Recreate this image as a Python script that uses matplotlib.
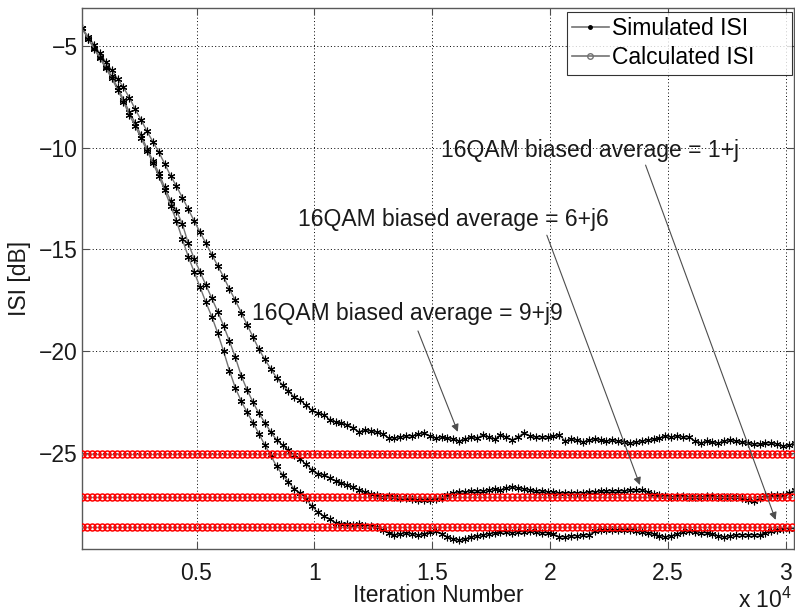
#!/usr/bin/env python3

import matplotlib
matplotlib.use('Agg')

import numpy as np
import matplotlib.pyplot as plt

# -----------------------------
# Data
# -----------------------------
iters = np.arange(150, 30401, 250)   # iteration number of each simulated point

isi_9j9 = [
    -4.15, -4.55, -4.95, -5.38, -5.8, -6.2, -6.62, -7.05, -7.55, -8.12,
    -8.65, -9.2, -9.72, -10.22, -10.8, -11.38, -11.9, -12.45, -13.02, -13.6,
    -14.15, -14.7, -15.25, -15.8, -16.35, -16.95, -17.5, -18.1, -18.7, -19.3,
    -19.9, -20.4, -20.85, -21.3, -21.65, -21.95, -22.25, -22.4, -22.65, -22.9,
    -23.05, -23.1, -23.35, -23.45, -23.5, -23.6, -23.75, -23.95, -23.85, -23.9,
    -23.95, -24.05, -24.25, -24.25, -24.2, -24.15, -24.15, -24.05, -24.0, -24.15,
    -24.25, -24.2, -24.25, -24.3, -24.4, -24.3, -24.2, -24.25, -24.1, -24.2,
    -24.3, -24.1, -24.2, -24.35, -24.2, -24.0, -24.15, -24.2, -24.2, -24.2,
    -24.15, -24.1, -24.4, -24.3, -24.35, -24.45, -24.35, -24.3, -24.35, -24.4,
    -24.35, -24.4, -24.45, -24.5, -24.45, -24.4, -24.35, -24.3, -24.25, -24.15,
    -24.2, -24.15, -24.2, -24.2, -24.4, -24.5, -24.4, -24.45, -24.5, -24.4,
    -24.35, -24.4, -24.45, -24.5, -24.55, -24.55, -24.5, -24.5, -24.55, -24.65,
    -24.6, -24.5,
]

isi_6j6 = [
    -4.15, -4.65, -5.1, -5.55, -6.05, -6.5, -7.05, -7.65, -8.25, -8.8,
    -9.4, -10.05, -10.65, -11.25, -11.95, -12.6, -13.1, -13.75, -14.7, -15.45,
    -16.1, -16.75, -17.4, -18.05, -18.75, -19.5, -20.3, -21.2, -21.9, -22.5,
    -23.05, -23.5, -23.95, -24.35, -24.6, -24.85, -25.1, -25.3, -25.55, -25.8,
    -26.0, -26.05, -26.2, -26.35, -26.45, -26.55, -26.65, -26.8, -26.9, -27.0,
    -27.05, -27.15, -27.1, -27.15, -27.2, -27.2, -27.25, -27.3, -27.3, -27.3,
    -27.25, -27.2, -27.05, -26.95, -26.9, -26.9, -26.85, -26.85, -26.85, -26.8,
    -26.75, -26.8, -26.7, -26.65, -26.7, -26.75, -26.8, -26.85, -26.85, -26.9,
    -26.9, -26.95, -26.95, -26.95, -26.95, -26.95, -26.9, -26.9, -26.85, -26.85,
    -26.85, -26.85, -26.85, -26.8, -26.8, -26.8, -26.9, -27.0, -27.05, -27.1,
    -27.15, -27.1, -27.1, -27.15, -27.15, -27.15, -27.1, -27.1, -27.15, -27.15,
    -27.15, -27.15, -27.2, -27.3, -27.35, -27.2, -27.05, -27.05, -27.05, -27.05,
    -26.95, -26.8,
]

isi_1j = [
    -4.15, -4.65, -5.15, -5.62, -6.1, -6.6, -7.15, -7.75, -8.4, -8.95,
    -9.55, -10.15, -10.75, -11.4, -12.1, -12.85, -13.6, -14.5, -15.35, -16.1,
    -16.85, -17.6, -18.3, -19.1, -20.0, -20.95, -21.8, -22.45, -23.0, -23.5,
    -24.05, -24.6, -25.1, -25.65, -26.05, -26.4, -26.75, -26.95, -27.25, -27.6,
    -27.9, -28.1, -28.25, -28.4, -28.45, -28.45, -28.5, -28.45, -28.55, -28.55,
    -28.6, -28.75, -28.9, -29.0, -28.95, -28.9, -28.95, -29.0, -28.95, -28.85,
    -28.8, -28.95, -29.1, -29.2, -29.25, -29.2, -29.1, -29.05, -29.0, -28.95,
    -28.9, -28.85, -28.85, -28.9, -28.85, -28.85, -28.8, -28.85, -28.9, -28.9,
    -28.95, -29.1, -29.1, -29.05, -29.05, -29.0, -29.0, -28.8, -28.75, -28.75,
    -28.75, -28.75, -28.75, -28.75, -28.8, -28.85, -28.9, -28.95, -29.05, -29.1,
    -29.05, -28.95, -28.85, -28.8, -28.85, -28.9, -28.9, -28.95, -29.05, -29.1,
    -29.05, -29.0, -29.0, -29.0, -29.0, -29.0, -28.9, -28.8, -28.75, -28.7,
    -28.7, -28.7,
]

calc_iters = np.arange(150, 30401, 212)
calc_levels = [-25.05, -27.15, -28.6]   # 9+j9, 6+j6, 1+j

xtick_vals = [5000, 10000, 15000, 20000, 25000, 30000]
xtick_labels = ['0.5', '1', '1.5', '2', '2.5', '3']
ytick_vals = [-25, -20, -15, -10, -5]

notes = [
    # text, text position, arrow start, arrow tip (data coords)
    ('16QAM biased average = 1+j', (15380, -10.12), (24060, -10.86), (29580, -28.27)),
    ('16QAM biased average = 6+j6', (9310, -13.55), (19870, -14.3), (23820, -26.56)),
    ('16QAM biased average = 9+j9', (7360, -18.12), (14400, -19.0), (16090, -23.95)),
]

# -----------------------------
# Style
# -----------------------------
plt.rcParams['font.family'] = ['Liberation Sans', 'DejaVu Sans']
plt.rcParams['mathtext.fontset'] = 'custom'
plt.rcParams['mathtext.rm'] = 'Liberation Sans'
FS = 16.5

fig = plt.figure(figsize=(7.95, 6.13), dpi=100)
ax = fig.add_axes([82 / 795, 1 - 549 / 613, (794 - 82) / 795, (549 - 8) / 613])

sim_kw = dict(color='0.45', lw=1.0, marker=(6, 2, 0), ms=5.5, mec='black', mew=0.8)
for vals in (isi_9j9, isi_6j6, isi_1j):
    ax.plot(iters, vals, **sim_kw)

for lvl in calc_levels:
    ax.plot(calc_iters, np.full(len(calc_iters), lvl), color='0.5', lw=1.0,
            marker='o', ms=5, mfc='none', mec='red', mew=1.1, zorder=3)

# legend proxies
h_sim, = ax.plot([], [], color='0.45', lw=1.2, marker='.', ms=5, mec='black', mfc='black')
h_calc, = ax.plot([], [], color='0.45', lw=1.2, marker='o', ms=4, mfc='none', mec='0.45')
leg = ax.legend([h_sim, h_calc], ['Simulated ISI', 'Calculated ISI'], loc='upper left',
                bbox_to_anchor=(0.681, 0.5, 0.316, 0.4926), mode='expand',
                borderaxespad=0, fontsize=FS, frameon=True, fancybox=False,
                handlelength=1.6, handletextpad=0.15, borderpad=0.22,
                labelspacing=0.28)
leg.get_frame().set_edgecolor('black')
leg.get_frame().set_linewidth(0.8)

for txt, pos, start, tip in notes:
    ax.text(pos[0], pos[1], txt, fontsize=FS, va='center', ha='left', color='0.1')
    ax.annotate('', xy=tip, xytext=start,
                arrowprops=dict(arrowstyle='-|>', color='0.3', lw=0.8,
                                mutation_scale=11, shrinkA=0, shrinkB=0))

ax.set_xlim(140, 30360)
ax.set_ylim(-29.7, -3.15)
ax.set_xticks(xtick_vals)
ax.set_xticklabels(xtick_labels)
ax.set_yticks(ytick_vals)
ax.tick_params(direction='in', length=5, width=0.8, top=True, right=True,
               labelsize=FS, colors='0.3', labelcolor='0.1')
ax.tick_params(axis='x', pad=9)
ax.tick_params(axis='y', pad=3)
ax.grid(True, color='black', linestyle=(0, (1, 2.5)), linewidth=0.7)
for s in ax.spines.values():
    s.set_color('0.35')
    s.set_linewidth(1.0)

ax.set_xlabel('Iteration Number', fontsize=FS, color='0.1', labelpad=0)
ax.set_ylabel('ISI [dB]', fontsize=FS, color='0.1', labelpad=6)
fig.text(738 / 795, 1 - 600 / 613, r'x 10$^{\mathregular{4}}$', fontsize=FS,
         va='center', ha='left', color='0.1')

fig.savefig('out.png', dpi=100)
